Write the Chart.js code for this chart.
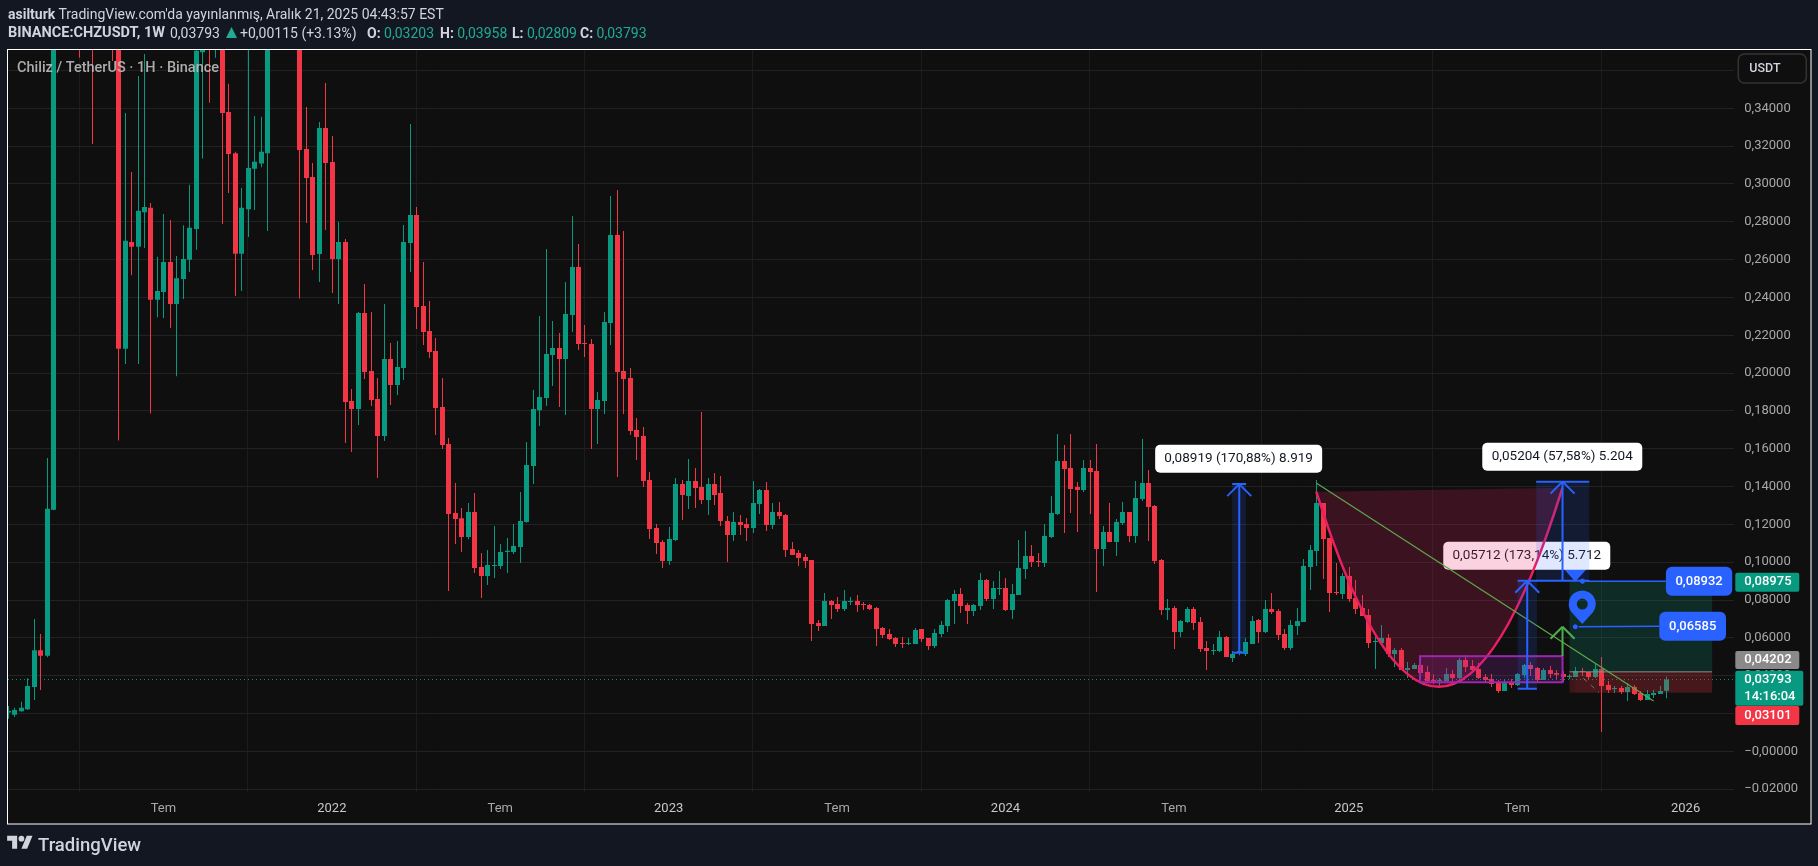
<!DOCTYPE html>
<html>
<head>
<meta charset="utf-8">
<title>CHZUSDT</title>
<script src="https://cdn.jsdelivr.net/npm/chart.js@4/dist/chart.umd.js"></script>
<style>
    html, body { margin: 0; padding: 0; background: #121722; overflow: hidden; }
    #wrap { position: relative; width: 1818px; height: 866px; }
    canvas { position: absolute; left: 0; top: 0; }
    .hdr { position: absolute; font: 14px Roboto, sans-serif; line-height: 18px; color: #d1d4dc; white-space: nowrap; }
    .hdr b { font-weight: 700; }
    .teal { color: #22ab94; }
    #logo { position: absolute; left: 7px; top: 833px; }
    #logoText { position: absolute; left: 38px; top: 834px; font: 500 18.5px Roboto, sans-serif; line-height: 22px; color: #d1d4dc; }
</style>
</head>
<body>
<div id="wrap">
    <canvas id="chart" width="1818" height="866"></canvas>
    <div class="hdr" style="left:8px;top:5px"><b>asilturk</b> TradingView.com'da yayınlanmış, Aralık 21, 2025 04:43:57 EST</div>
    <div class="hdr" style="left:8px;top:24px;font-size:14.5px"><b>BINANCE:CHZUSDT, 1W</b></div>
    <div class="hdr" style="left:170px;top:24px">0,03793</div>
    <svg style="position:absolute;left:226px;top:27px" width="11" height="11" viewBox="0 0 11 11"><path d="M5.5 0L11 11H0z" fill="#22ab94"></path></svg>
    <div class="hdr" style="left:240px;top:24px">+0,00115 (+3.13%)</div>
    <div class="hdr" style="left:367px;top:24px"><b>O:</b> <span class="teal">0,03203</span></div>
    <div class="hdr" style="left:440px;top:24px"><b>H:</b> <span class="teal">0,03958</span></div>
    <div class="hdr" style="left:512px;top:24px"><b>L:</b> <span class="teal">0,02809</span></div>
    <div class="hdr" style="left:580px;top:24px"><b>C:</b> <span class="teal">0,03793</span></div>
    <svg id="logo" width="26" height="20" viewBox="0 0 36 28" fill="#d1d4dc">
        <path d="M14 22H7V11H0V4h14v18zM28 22h-8l7.5-18h8L28 22z"></path>
        <circle cx="20" cy="8" r="4"></circle>
    </svg>
    <div id="logoText">TradingView</div>
</div>
<script>
// weekly candles. 8-16, 31-33 and 41-44 are above the visible range
const opens = [
    .0205,.0193,.0212,.0223,.0340,.0535,.0505,.1278,.46,.52,
    .60,.72,.56,.62,.50,.58,.53,.50,.2129,.2693,
    .2668,.2851,.2874,.2388,.2429,.2587,.2365,.2498,.2599,.2762,
    .3697,.40,.39,.41,.3381,.3163,.2631,.2867,.3080,.3108,
    .3163,.39,.46,.44,.50,.45,.3185,.3037,.2630,.3296,
    .3116,.2603,.2693,.1852,.1810,.2318,.2011,.1863,.1667,.2075,
    .1937,.2027,.2688,.2836,.2355,.2223,.2117,.1821,.1625,.1260,
    .1233,.1133,.1265,.0975,.0927,.0980,.0980,.1054,.1054,.1080,
    .1213,.1509,.1804,.1868,.2096,.2133,.2075,.2307,.2561,.2159,
    .2154,.1810,.1852,.2265,.2730,.2011,.1974,.1699,.1667,.1435,
    .1181,.1107,.1006,.1117,.1414,.1350,.1429,.1398,.1329,.1414,
    .1366,.1218,.1144,.1213,.1202,.1181,.1308,.1382,.1197,.1265,
    .1250,.1070,.1049,.1027,.1012,.0678,.0663,.0795,.0779,.0753,
    .0790,.0795,.0779,.0774,.0758,.0652,.0620,.0599,.0573,.0567,
    .0567,.0647,.0599,.0557,.0620,.0663,.0795,.0832,.0774,.0742,
    .0768,.0906,.0805,.0858,.0864,.0747,.0827,.0964,.1033,.1006,
    .0996,.1133,.1255,.1535,.1498,.1398,.1382,.1498,.1482,.1070,
    .1160,.1107,.1207,.1265,.1139,.1334,.1419,.1297,.1012,.0747,
    .0758,.0631,.0684,.0753,.0684,.0546,.0530,.0530,.0604,.0493,
    .0520,.0515,.0567,.0694,.0631,.0753,.0742,.0620,.0546,.0663,
    .0684,.0975,.1059,.1313,.1128,.0842,.0832,.0927,.0811,.0758,
    .0721,.0578,.0573,.0599,.0515,.0536,.0430,.0435,.0456,.0419,
    .0377,.0372,.0370,.0409,.0388,.0483,.0451,.0435,.0393,.0382,
    .0366,.0319,.0366,.0351,.0403,.0456,.0440,.0377,.0430,.0414,
    .0409,.0393,.0393,.0425,.0419,.0393,.0435,.0351,.0329,.0335,
    .0314,.0340,.0308,.0271,.0298,.0303,.03203
];
const closes = [
    .0213,.0219,.0230,.0345,.0535,.0505,.1283,.46,.52,.60,
    .72,.56,.62,.50,.58,.53,.50,.2129,.2700,.2668,
    .2858,.2879,.2388,.2434,.2587,.2365,.2502,.2603,.2769,.3704,
    .38,.38,.41,.3376,.3158,.2631,.2874,.3085,.3117,.3170,
    .39,.46,.44,.50,.45,.3180,.3032,.2624,.3296,.3111,
    .2603,.2693,.1847,.1810,.2318,.2006,.1858,.1667,.2075,.1937,
    .2032,.2693,.2836,.2350,.2217,.2112,.1815,.1620,.1255,.1228,
    .1133,.1265,.0969,.0927,.0985,.0985,.1054,.1060,.1086,.1218,
    .1514,.1810,.1874,.2101,.2133,.2075,.2313,.2561,.2154,.2154,
    .1810,.1858,.2270,.2730,.2006,.1969,.1694,.1662,.1429,.1176,
    .1102,.1006,.1123,.1414,.1355,.1429,.1392,.1329,.1414,.1355,
    .1218,.1144,.1213,.1197,.1181,.1313,.1382,.1197,.1265,.1244,
    .1065,.1038,.1022,.1006,.0673,.0663,.0795,.0774,.0753,.0795,
    .0795,.0774,.0774,.0753,.0647,.0615,.0594,.0567,.0567,.0573,
    .0642,.0594,.0557,.0626,.0668,.0800,.0832,.0768,.0742,.0774,
    .0906,.0805,.0864,.0864,.0747,.0832,.0969,.1033,.1001,.1001,
    .1139,.1260,.1535,.1493,.1387,.1382,.1498,.1477,.1070,.1160,
    .1107,.1213,.1265,.1139,.1339,.1419,.1292,.1006,.0747,.0758,
    .0631,.0689,.0753,.0678,.0541,.0530,.0536,.0604,.0499,.0515,
    .0530,.0578,.0689,.0631,.0753,.0737,.0615,.0546,.0668,.0689,
    .0980,.1064,.1313,.1123,.0837,.0837,.0927,.0805,.0752,.0715,
    .0573,.0583,.0599,.0515,.0536,.0430,.0441,.0456,.0414,.0372,
    .0366,.0377,.0409,.0388,.0483,.0446,.0430,.0388,.0377,.0356,
    .0319,.0366,.0351,.0409,.0456,.0435,.0377,.0430,.0409,.0405,
    .0393,.0398,.0425,.0419,.0393,.0435,.0345,.0324,.0335,.0314,
    .0340,.0303,.0271,.0303,.0308,.0319,.03793
];
const highs = [
    .0240,.0230,.0262,.0386,.0700,.0620,.1551,.50,.60,.70,
    .89,.80,.66,.66,.62,.64,.58,.52,.3376,.3064,
    .3571,.3688,.2899,.2615,.2842,.2810,.2619,.2782,.2996,.39,
    .40,.42,.43,.43,.3530,.3170,.2979,.38,.3360,.3355,
    .42,.50,.52,.56,.58,.47,.3407,.3111,.3328,.3534,
    .3254,.2799,.2709,.1916,.2323,.2471,.2323,.1974,.2365,.2159,
    .2170,.2783,.3317,.2878,.2587,.2381,.2185,.1974,.1657,.1419,
    .1286,.1313,.1366,.1049,.1064,.1191,.1096,.1128,.1202,.1371,
    .1636,.1911,.2302,.2656,.2275,.2212,.2482,.2831,.2683,.2254,
    .2180,.1900,.2323,.2936,.2968,.2751,.2027,.1762,.1715,.1477,
    .1202,.1117,.1186,.1445,.1435,.1546,.1498,.1794,.1445,.1472,
    .1456,.1244,.1266,.1250,.1234,.1429,.1387,.1424,.1313,.1318,
    .1255,.1107,.1065,.1043,.1012,.0694,.0837,.0800,.0816,.0853,
    .0816,.0826,.0789,.0779,.0763,.0657,.0647,.0604,.0604,.0599,
    .0652,.0647,.0599,.0647,.0689,.0805,.0853,.0864,.0784,.0779,
    .0943,.0911,.0901,.0953,.0916,.0885,.1117,.1165,.1091,.1049,
    .1202,.1350,.1678,.1620,.1678,.1424,.1540,.1540,.1625,.1192,
    .1313,.1228,.1318,.1265,.1429,.1651,.1488,.1303,.1017,.0805,
    .0768,.0694,.0763,.0763,.0710,.0583,.0567,.0636,.0610,.0530,
    .0560,.0599,.0715,.0700,.0800,.0837,.0753,.0647,.0694,.0758,
    .1017,.1091,.1435,.1313,.1128,.0996,.0943,.0975,.0906,.0827,
    .0752,.0620,.0668,.0620,.0546,.0546,.0472,.0467,.0456,.0451,
    .0407,.0387,.0440,.0430,.0495,.0509,.0483,.0467,.0409,.0409,
    .0377,.0377,.0382,.0414,.0462,.0472,.0446,.0440,.0451,.0430,
    .0425,.0409,.0446,.0440,.0419,.0467,.0499,.0372,.0345,.0345,
    .0361,.0351,.0319,.0324,.0324,.0345,.03958
];
const lows = [
    .0172,.0182,.0209,.0219,.0271,.0324,.0498,.1275,.42,.46,
    .55,.3667,.46,.3211,.43,.48,.3651,.1643,.2048,.2518,
    .2048,.2661,.1787,.2296,.2292,.2239,.1984,.2392,.2535,.2652,
    .3135,.3429,.3667,.2789,.2952,.2408,.2434,.2720,.2862,.3089,
    .2752,.38,.41,.40,.43,.2394,.2794,.2545,.2482,.2757,
    .2424,.2365,.1630,.1583,.1725,.1969,.1826,.1445,.1641,.1831,
    .1884,.1963,.2535,.2233,.2149,.2080,.1673,.1599,.0848,.1096,
    .1054,.1122,.0943,.0811,.0879,.0916,.0964,.0943,.1043,.0996,
    .1208,.1413,.1720,.1826,.1932,.1821,.1778,.2217,.2122,.2085,
    .1599,.1625,.1784,.2149,.1451,.1784,.1673,.1540,.1398,.1123,
    .1043,.0969,.0985,.1112,.1223,.1281,.1286,.1308,.1250,.1302,
    .1191,.1001,.1112,.1144,.1112,.1154,.1255,.1165,.1176,.1228,
    .1027,.1038,.0980,.0969,.0583,.0636,.0663,.0700,.0737,.0742,
    .0774,.0737,.0747,.0747,.0557,.0599,.0589,.0552,.0546,.0562,
    .0567,.0578,.0536,.0546,.0604,.0631,.0673,.0731,.0673,.0715,
    .0747,.0795,.0752,.0827,.0742,.0700,.0827,.0911,.0975,.0975,
    .0975,.1128,.1250,.1154,.1260,.1160,.1371,.1255,.0842,.0980,
    .1107,.1033,.1197,.1107,.1102,.1324,.1112,.0990,.0721,.0694,
    .0541,.0604,.0678,.0641,.0525,.0430,.0509,.0525,.0499,.0472,
    .0508,.0504,.0567,.0573,.0626,.0726,.0589,.0536,.0536,.0615,
    .0684,.0853,.0980,.0911,.0737,.0827,.0805,.0789,.0726,.0715,
    .0546,.0435,.0562,.0499,.0446,.0430,.0388,.0435,.0402,.0365,
    .0356,.0346,.0363,.0356,.0377,.0419,.0419,.0382,.0366,.0340,
    .0308,.0319,.0335,.0345,.0388,.0398,.0361,.0377,.0388,.0382,
    .0366,.0382,.0393,.0398,.0377,.0388,.0102,.0308,.0308,.0303,
    .0266,.0298,.0266,.0271,.0282,.0303,.02809
];

// axes
const priceTicks = [-.02,0,.02,.04,.06,.08,.10,.12,.14,.16,.18,.20,.22,.24,.26,.28,.30,.32,.34,.36];
const timeTickIndexes = [24,50,76,102,128,154,180,207,233,259];
const timeTickLabels = ['Tem','2022','Tem','2023','Tem','2024','Tem','2025','Tem','2026'];

// drawings on the chart, [candle index, price]
const lastClose = .03793;
const measure1 = {x:190.09, left:189, right:191.16, low:.0521, high:.1413};
const measure2 = {x:234.55, left:233.07, right:236.04, low:.0331, high:.0902};
const measure3 = {x:240, left:235.93, right:244.13, low:.0902, high:.1426};
const greenArrow = {x:240, low:.0504, high:.0659};
const trendLine = [[202.03,.1417],[254.06,.0266]];
const curvePoints = [[201.98,.1373],[220.97,-.0702],[240,.1394]];
const purpleBox = {left:218, right:240, low:.0365, high:.0503};
const position = {left:241.07, stopLeft:241.97, right:263.1, target:.08975, entry:.04202, stop:.03101};
const pinTips = [[241.97,.0897],[243.05,.0673]];
const noteDots = [[243.08,.0899],[241.97,.06585]];
const noteBoxes = [
    {text:'0,08932', left:255.96, right:266.2, price:.0899},
    {text:'0,06585', left:254.94, right:265.24, price:.0661}
];
const measureLabels = [
    {text:'0,08919 (170,88%) 8.919', x:190, bottom:.1473, w:167},
    {text:'0,05712 (173,14%) 5.712', x:234.48, bottom:.0960, w:167},
    {text:'0,05204 (57,58%) 5.204', x:239.96, bottom:.1484, w:160}
];
const axisTags = [
    {lines:['0,08975'], price:.0894, color:'#089981', w:64, h:19},
    {lines:['0,04202'], price:.0483, color:'#8a8a8a', w:64, h:18},
    {lines:['0,03793','14:16:04'], price:.0333, color:'#089981', w:68, h:35},
    {lines:['0,03101'], price:.0190, color:'#f23645', w:64, h:19}
];

const upColor = '#089981';
const downColor = '#f23645';
const blue = '#2962ff';
const paneColor = '#0f0f0f';

const candleColors = closes.map((c, i) => c >= opens[i] ? upColor : downColor);
const wickData = lows.map((l, i) => ({x: i, y: [l, highs[i]]}));
const bodyData = opens.map((o, i) => ({x: i, y: [o, closes[i]]}));

function segment(ctx, x1, y1, x2, y2) {
    ctx.beginPath();
    ctx.moveTo(x1, y1);
    ctx.lineTo(x2, y2);
    ctx.stroke();
}

function roundBox(ctx, x, y, w, h, r, fill) {
    ctx.beginPath();
    ctx.roundRect(x, y, w, h, r);
    ctx.fillStyle = fill;
    ctx.fill();
}

function arrowHead(ctx, x, y) {
    segment(ctx, x - 12, y + 12, x, y);
    segment(ctx, x, y, x + 12, y + 12);
}

function drawPin(ctx, x, y) {
    const cy = y - 20, r = 13.5;
    ctx.beginPath();
    ctx.arc(x, cy, r, Math.PI * 0.8, Math.PI * 0.2);
    ctx.lineTo(x, y);
    ctx.closePath();
    ctx.moveTo(x + 5.5, cy);
    ctx.arc(x, cy, 5.5, 0, Math.PI * 2);
    ctx.fillStyle = blue;
    ctx.fill('evenodd');
}

function drawMeasure(ctx, m, xs, ys) {
    const l = xs(m.left), r = xs(m.right), t = ys(m.high), b = ys(m.low), x = xs(m.x);
    ctx.fillStyle = 'rgba(41,98,255,0.15)';
    ctx.fillRect(l, t, r - l, b - t);
    ctx.strokeStyle = blue;
    ctx.lineWidth = 2;
    segment(ctx, l, t, r, t);
    segment(ctx, l, b, r, b);
    segment(ctx, x, b, x, t);
    arrowHead(ctx, x, t);
}

// clean up the bars so wicks land on whole pixels
const crispBars = {
    id: 'crispBars',
    afterDatasetsUpdate(chart) {
        chart.data.datasets.forEach((d, n) => {
            chart.getDatasetMeta(n).data.forEach(el => { el.x = Math.round(el.x) + 0.5; });
        });
    }
};

const paneBackground = {
    id: 'paneBackground',
    beforeDraw(chart) {
        const ctx = chart.ctx, a = chart.chartArea;
        const right = a.right + chart.scales.y.width, bottom = a.bottom + chart.scales.x.height;
        ctx.save();
        ctx.fillStyle = paneColor;
        ctx.fillRect(a.left, a.top, right - a.left, bottom - a.top);
        ctx.restore();
    }
};

const drawings = {
    id: 'drawings',
    afterDatasetsDraw(chart) {
        const ctx = chart.ctx, a = chart.chartArea;
        const xs = v => chart.scales.x.getPixelForValue(v);
        const ys = v => chart.scales.y.getPixelForValue(v);
        ctx.save();
        ctx.beginPath();
        ctx.rect(a.left, a.top, a.right - a.left, a.bottom - a.top);
        ctx.clip();

        // last price line
        ctx.strokeStyle = upColor;
        ctx.lineWidth = 1;
        ctx.setLineDash([1, 3]);
        segment(ctx, a.left, ys(lastClose), a.right, ys(lastClose));
        ctx.setLineDash([]);

        // long position zones
        const pl = xs(position.left), pr = xs(position.right);
        ctx.fillStyle = 'rgba(8,153,129,0.2)';
        ctx.fillRect(pl, ys(position.target), pr - pl, ys(position.entry) - ys(position.target));
        ctx.fillStyle = 'rgba(242,54,69,0.2)';
        ctx.fillRect(pl, ys(position.entry), pr - pl, ys(position.stop) - ys(position.entry));
        ctx.fillStyle = 'rgba(242,54,69,0.06)';
        ctx.fillRect(xs(position.stopLeft), ys(position.entry), pr - xs(position.stopLeft), ys(position.stop) - ys(position.entry));
        ctx.strokeStyle = '#8f8f8f';
        ctx.lineWidth = 1;
        segment(ctx, pl, ys(position.entry), pr, ys(position.entry));
        ctx.strokeStyle = 'rgba(200,200,200,0.45)';
        ctx.setLineDash([5, 5]);
        segment(ctx, xs(243.2), ys(.0387), xs(245.6), ys(.0312));
        ctx.setLineDash([]);

        // pins with their notes
        pinTips.forEach(p => drawPin(ctx, xs(p[0]), ys(p[1])));
        noteBoxes.forEach((n, i) => {
            const d = noteDots[i];
            ctx.lineWidth = 1.5;
            ctx.strokeStyle = blue;
            segment(ctx, xs(d[0]), ys(d[1]), xs(n.left), ys(n.price));
            ctx.beginPath();
            ctx.arc(xs(d[0]), ys(d[1]), 3, 0, Math.PI * 2);
            ctx.fillStyle = blue;
            ctx.fill();
            ctx.lineWidth = 1;
            ctx.strokeStyle = '#0d1f2a';
            ctx.stroke();
        });

        // white measure labels
        ctx.textBaseline = 'middle';
        ctx.textAlign = 'center';
        measureLabels.forEach(m => {
            const x = xs(m.x), b = ys(m.bottom);
            roundBox(ctx, x - m.w / 2, b - 28, m.w, 28, 5, '#ffffff');
            ctx.fillStyle = '#131722';
            ctx.font = '13.5px Roboto, sans-serif';
            ctx.fillText(m.text, x, b - 14);
        });

        // curve, its fill runs up to the chord
        const p0 = curvePoints[0], p1 = curvePoints[1], p2 = curvePoints[2];
        ctx.beginPath();
        ctx.moveTo(xs(p0[0]), ys(p0[1]));
        ctx.quadraticCurveTo(xs(p1[0]), ys(p1[1]), xs(p2[0]), ys(p2[1]));
        ctx.closePath();
        ctx.fillStyle = 'rgba(233,30,99,0.2)';
        ctx.fill();
        ctx.beginPath();
        ctx.moveTo(xs(p0[0]), ys(p0[1]));
        ctx.quadraticCurveTo(xs(p1[0]), ys(p1[1]), xs(p2[0]), ys(p2[1]));
        ctx.strokeStyle = '#e91e63';
        ctx.lineWidth = 2.5;
        ctx.stroke();

        // purple box
        const bl = xs(purpleBox.left), bt = ys(purpleBox.high);
        const bw = xs(purpleBox.right) - bl, bh = ys(purpleBox.low) - bt;
        ctx.fillStyle = 'rgba(156,39,176,0.2)';
        ctx.fillRect(bl, bt, bw, bh);
        ctx.strokeStyle = '#9c27b0';
        ctx.lineWidth = 2;
        ctx.strokeRect(bl, bt, bw, bh);

        // trend line and the arrows
        ctx.strokeStyle = '#5fa84a';
        ctx.lineWidth = 1.2;
        segment(ctx, xs(trendLine[0][0]), ys(trendLine[0][1]), xs(trendLine[1][0]), ys(trendLine[1][1]));
        drawMeasure(ctx, measure1, xs, ys);
        drawMeasure(ctx, measure2, xs, ys);
        drawMeasure(ctx, measure3, xs, ys);
        ctx.strokeStyle = '#4caf50';
        ctx.lineWidth = 2;
        segment(ctx, xs(greenArrow.x), ys(greenArrow.low), xs(greenArrow.x), ys(greenArrow.high));
        arrowHead(ctx, xs(greenArrow.x), ys(greenArrow.high));

        // blue note boxes
        noteBoxes.forEach(n => {
            const l = xs(n.left), w = xs(n.right) - l, c = ys(n.price);
            roundBox(ctx, l, c - 14.5, w, 29, 6, blue);
            ctx.fillStyle = '#ffffff';
            ctx.font = '500 13px Roboto, sans-serif';
            ctx.fillText(n.text, l + w / 2, c);
        });
        ctx.restore();
    },
    afterDraw(chart) {
        const ctx = chart.ctx, a = chart.chartArea;
        const ys = v => chart.scales.y.getPixelForValue(v);
        const right = a.right + chart.scales.y.width, bottom = a.bottom + chart.scales.x.height;
        ctx.save();

        // the price axis stops where the time axis starts
        ctx.fillStyle = paneColor;
        ctx.fillRect(a.right, a.bottom, right - a.right, bottom - a.bottom);

        // symbol title
        ctx.font = '500 14.5px Roboto, sans-serif';
        ctx.textAlign = 'left';
        ctx.textBaseline = 'middle';
        ctx.fillStyle = 'rgba(190,190,190,0.9)';
        ctx.fillText('Chiliz / TetherUS · 1H · Binance', 17, 68);

        // tags on the price axis
        axisTags.forEach(t => {
            const c = ys(t.price);
            roundBox(ctx, a.right + 1, c - t.h / 2, t.w, t.h, 2, t.color);
            ctx.fillStyle = '#ffffff';
            ctx.font = '500 13px Roboto, sans-serif';
            t.lines.forEach((s, i) => ctx.fillText(s, a.right + 10, c + (i - (t.lines.length - 1) / 2) * 16.5));
        });

        // currency button
        ctx.beginPath();
        ctx.roundRect(a.right + 4, 54, 68, 29, 6);
        ctx.fillStyle = paneColor;
        ctx.fill();
        ctx.strokeStyle = '#333333';
        ctx.lineWidth = 1.5;
        ctx.stroke();
        ctx.fillStyle = '#d1d4dc';
        ctx.font = '500 12.5px Roboto, sans-serif';
        ctx.fillText('USDT', a.right + 15, 69);

        // frame
        ctx.strokeStyle = '#ffffff';
        ctx.lineWidth = 1;
        ctx.strokeRect(7.5, 49.5, right - 7.5, bottom - 49.5);
        ctx.restore();
    }
};

new Chart(document.getElementById('chart'), {
    type: 'bar',
    data: {
        datasets: [
            {
                label: 'wick',
                data: wickData,
                backgroundColor: candleColors,
                barThickness: 1,
                grouped: false,
                inflateAmount: 0,
                minBarLength: 1
            },
            {
                label: 'body',
                data: bodyData,
                backgroundColor: candleColors,
                barThickness: 5,
                grouped: false,
                inflateAmount: 0,
                minBarLength: 1
            }
        ]
    },
    options: {
        responsive: false,
        animation: false,
        layout: {padding: {left: 8, top: 50, right: 7, bottom: 42}},
        plugins: {legend: {display: false}, tooltip: {enabled: false}},
        scales: {
            x: {
                type: 'linear',
                offset: false,
                min: 0,
                max: 266.52,
                afterFit(scale) { scale.height = 32; },
                afterBuildTicks(scale) { scale.ticks = timeTickIndexes.map(v => ({value: v})); },
                border: {display: false},
                grid: {color: '#1c1c1c', drawTicks: false},
                ticks: {
                    autoSkip: false,
                    maxRotation: 0,
                    padding: 9,
                    color: ctx => ctx.index % 2 ? '#c8c8c8' : '#a8a8a8',
                    font: {family: 'Roboto, sans-serif', size: 13},
                    callback: (v, i) => timeTickLabels[i]
                }
            },
            y: {
                position: 'right',
                min: -.02152,
                max: .37086,
                afterFit(scale) { scale.width = 76.7; },
                afterBuildTicks(scale) { scale.ticks = priceTicks.map(v => ({value: v})); },
                border: {display: false},
                grid: {color: '#222222', drawTicks: false},
                ticks: {
                    autoSkip: false,
                    padding: 10,
                    color: '#a8a8a8',
                    font: {family: 'Roboto, sans-serif', size: 13},
                    callback: v => (v <= 0 ? '−' : '') + Math.abs(v).toFixed(5).replace('.', ',')
                }
            }
        }
    },
    plugins: [crispBars, paneBackground, drawings]
});
</script>
</body>
</html>
